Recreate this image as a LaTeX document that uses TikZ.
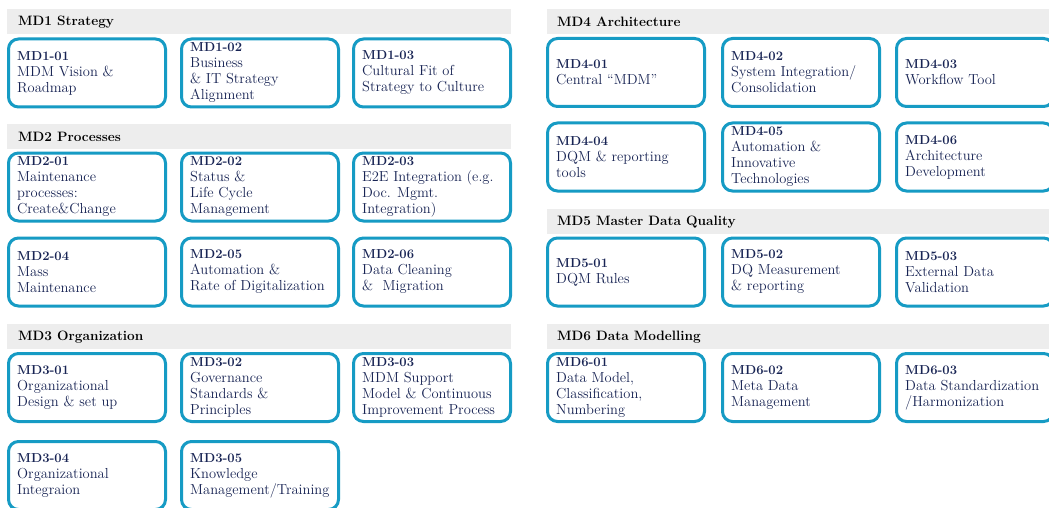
\documentclass[tikz,border=0pt]{standalone}
\usepackage{fontspec}
\definecolor{mdblue}{RGB}{22,155,196}
\definecolor{mdnavy}{RGB}{24,36,84}
\definecolor{hdrgray}{RGB}{237,237,237}
\newcommand{\mdid}[1]{{\fontsize{13}{16}\selectfont\bfseries #1}}
\begin{document}
\begin{tikzpicture}[x=1pt,y=-1pt,
  hdr/.style={fill=hdrgray, draw=none, anchor=north west, inner sep=0pt, minimum height=25pt},
  hdrtxt/.style={anchor=west, inner sep=0pt, text=black, font=\fontsize{13.6}{15}\selectfont\bfseries},
  mdbox/.style={draw=mdblue, line width=3pt, rounded corners=10pt, minimum width=157pt, minimum height=68pt, inner sep=0pt},
  mdtxt/.style={anchor=west, align=left, inner sep=0pt, text=mdnavy, font=\fontsize{14.5}{16}\selectfont}
]
\useasboundingbox (0,0) rectangle (1049,508);
\fill[white] (0,0) rectangle (1049,508);

% ---------- headers ----------
\node[hdr, minimum width=504pt] (h1) at (7,9) {};
\node[hdrtxt] (h1t) at ([xshift=11pt]h1.west) {MD1 Strategy};
\node[hdr, minimum width=504pt] (h2) at (7,124) {};
\node[hdrtxt] (h2t) at ([xshift=11pt]h2.west) {MD2 Processes};
\node[hdr, minimum width=504pt] (h3) at (7,324) {};
\node[hdrtxt] (h3t) at ([xshift=11pt]h3.west) {MD3 Organization};
\node[hdr, minimum width=510pt] (h4) at (547,9) {};
\node[hdrtxt] (h4t) at ([xshift=10pt]h4.west) {MD4 Architecture};
\node[hdr, minimum width=510pt] (h5) at (547,209) {};
\node[hdrtxt] (h5t) at ([xshift=10pt]h5.west) {MD5 Master Data Quality};
\node[hdr, minimum width=510pt] (h6) at (547,324) {};
\node[hdrtxt] (h6t) at ([xshift=10pt]h6.west) {MD6 Data Modelling};

% ---------- MD1 ----------
\node[mdbox] (b101) at (87,73) {};
\node[mdtxt] (t101) at ([xshift=10pt]b101.west) {\mdid{MD1-01}\\MDM Vision \&\\Roadmap};
\node[mdbox] (b102) at (260,73) {};
\node[mdtxt] (t102) at ([xshift=10pt]b102.west) {\mdid{MD1-02}\\Business\\\& IT Strategy\\Alignment};
\node[mdbox] (b103) at (432,73) {};
\node[mdtxt] (t103) at ([xshift=10pt]b103.west) {\mdid{MD1-03}\\Cultural Fit of\\Strategy to Culture};

% ---------- MD2 ----------
\node[mdbox] (b201) at (87,187) {};
\node[mdtxt] (t201) at ([xshift=10pt]b201.west) {\mdid{MD2-01}\\Maintenance\\processes:\\Create\&Change};
\node[mdbox] (b202) at (260,187) {};
\node[mdtxt] (t202) at ([xshift=10pt]b202.west) {\mdid{MD2-02}\\Status \&\\Life Cycle\\Management};
\node[mdbox] (b203) at (432,187) {};
\node[mdtxt] (t203) at ([xshift=10pt]b203.west) {\mdid{MD2-03}\\E2E Integration (e.g.\\Doc. Mgmt.\\Integration)};
\node[mdbox] (b204) at (87,272) {};
\node[mdtxt] (t204) at ([xshift=10pt]b204.west) {\mdid{MD2-04}\\Mass\\Maintenance};
\node[mdbox] (b205) at (260,272) {};
\node[mdtxt] (t205) at ([xshift=10pt]b205.west) {\mdid{MD2-05}\\Automation \&\\Rate of Digitalization};
\node[mdbox] (b206) at (432,272) {};
\node[mdtxt] (t206) at ([xshift=10pt]b206.west) {\mdid{MD2-06}\\Data Cleaning\\\&~~Migration};

% ---------- MD3 ----------
\node[mdbox] (b301) at (87,387.5) {};
\node[mdtxt] (t301) at ([xshift=10pt]b301.west) {\mdid{MD3-01}\\Organizational\\Design \& set up};
\node[mdbox] (b302) at (260,387.5) {};
\node[mdtxt] (t302) at ([xshift=10pt]b302.west) {\mdid{MD3-02}\\Governance\\Standards \&\\Principles};
\node[mdbox] (b303) at (432,387.5) {};
\node[mdtxt] (t303) at ([xshift=10pt]b303.west) {\mdid{MD3-03}\\MDM Support\\Model \& Continuous\\Improvement Process};
\node[mdbox] (b304) at (87,475.5) {};
\node[mdtxt] (t304) at ([xshift=10pt]b304.west) {\mdid{MD3-04}\\Organizational\\Integraion};
\node[mdbox] (b305) at (260,475.5) {};
\node[mdtxt] (t305) at ([xshift=10pt]b305.west) {\mdid{MD3-05}\\Knowledge\\Management/Training};

% ---------- MD4 ----------
\node[mdbox] (b401) at (626,72.5) {};
\node[mdtxt] (t401) at ([xshift=10pt]b401.west) {\mdid{MD4-01}\\Central ``MDM''};
\node[mdbox] (b402) at (801,72.5) {};
\node[mdtxt] (t402) at ([xshift=10pt]b402.west) {\mdid{MD4-02}\\System Integration/\\Consolidation};
\node[mdbox] (b403) at (975,72.5) {};
\node[mdtxt] (t403) at ([xshift=10pt]b403.west) {\mdid{MD4-03}\\Workflow Tool};
\node[mdbox] (b404) at (626,157) {};
\node[mdtxt] (t404) at ([xshift=10pt]b404.west) {\mdid{MD4-04}\\DQM \& reporting\\tools};
\node[mdbox] (b405) at (801,157) {};
\node[mdtxt] (t405) at ([xshift=10pt]b405.west) {\mdid{MD4-05}\\Automation \&\\Innovative\\Technologies};
\node[mdbox] (b406) at (975,157) {};
\node[mdtxt] (t406) at ([xshift=10pt]b406.west) {\mdid{MD4-06}\\Architecture\\Development};

% ---------- MD5 ----------
\node[mdbox] (b501) at (626,272) {};
\node[mdtxt] (t501) at ([xshift=10pt]b501.west) {\mdid{MD5-01}\\DQM Rules};
\node[mdbox] (b502) at (801,272) {};
\node[mdtxt] (t502) at ([xshift=10pt]b502.west) {\mdid{MD5-02}\\DQ Measurement\\\& reporting};
\node[mdbox] (b503) at (975,272) {};
\node[mdtxt] (t503) at ([xshift=10pt]b503.west) {\mdid{MD5-03}\\External Data\\Validation};

% ---------- MD6 ----------
\node[mdbox] (b601) at (626,387.5) {};
\node[mdtxt] (t601) at ([xshift=10pt]b601.west) {\mdid{MD6-01}\\Data Model,\\Classification,\\Numbering};
\node[mdbox] (b602) at (801,387.5) {};
\node[mdtxt] (t602) at ([xshift=10pt]b602.west) {\mdid{MD6-02}\\Meta Data\\Management};
\node[mdbox] (b603) at (975,387.5) {};
\node[mdtxt] (t603) at ([xshift=10pt]b603.west) {\mdid{MD6-03}\\Data Standardization\\/Harmonization};
\end{tikzpicture}
\end{document}
